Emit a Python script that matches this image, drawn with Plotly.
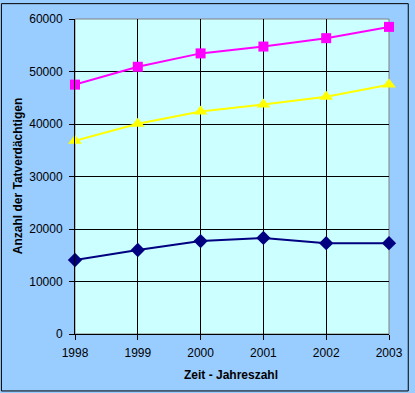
import plotly.graph_objects as go

years = [1998, 1999, 2000, 2001, 2002, 2003]
series_magenta = [47500, 50900, 53450, 54750, 56350, 58500]
series_yellow = [36800, 40050, 42400, 43700, 45200, 47500]
series_navy = [14100, 16000, 17700, 18300, 17300, 17300]
y_ticks = [0, 10000, 20000, 30000, 40000, 50000, 60000]

W, H = 415, 393
L, R, T, B = 75, 22, 16, 59
pw, ph = W - L - R, H - T - B

def px(x):
    return (x - L) / pw

def py(y):
    return (H - B - y) / ph

fig = go.Figure()
fig.add_trace(go.Scatter(x=years, y=series_magenta, mode="lines+markers",
                         line=dict(color="#FF00FF", width=2),
                         marker=dict(symbol="square", size=10, color="#FF00FF"),
                         cliponaxis=False, showlegend=False))
fig.add_trace(go.Scatter(x=years, y=series_yellow, mode="lines+markers",
                         line=dict(color="#FFFF00", width=2),
                         marker=dict(symbol="triangle-up", size=12, color="#FFFF00"),
                         cliponaxis=False, showlegend=False))
fig.add_trace(go.Scatter(x=years, y=series_navy, mode="lines+markers",
                         line=dict(color="#000080", width=2),
                         marker=dict(symbol="diamond", size=11, color="#000080"),
                         cliponaxis=False, showlegend=False))

FF = "Liberation Sans, Arial, sans-serif"
font = dict(family=FF, size=12, color="black")

fig.update_layout(
    width=W, height=H,
    margin=dict(l=L, r=R, t=T, b=B),
    paper_bgcolor="#99CCFF",
    plot_bgcolor="#CCFFFF",
    font=font,
    xaxis=dict(range=[1998, 2003], tickvals=years, ticktext=[str(y) for y in years],
               showgrid=True, gridcolor="black", gridwidth=1,
               ticks="outside", ticklen=5, tickcolor="black",
               ticklabelstandoff=3,
               showline=True, linecolor="black", linewidth=1,
               zeroline=False, fixedrange=True),
    yaxis=dict(range=[0, 60000], tickvals=y_ticks, ticktext=[str(v) for v in y_ticks],
               showgrid=True, gridcolor="black", gridwidth=1,
               ticks="outside", ticklen=5, tickcolor="black",
               ticklabelstandoff=4,
               showline=True, linecolor="black", linewidth=1,
               zeroline=False, fixedrange=True),
    shapes=[
        dict(type="rect", xref="paper", yref="paper", x0=0, x1=1, y0=0, y1=1,
             line=dict(color="#808080", width=1), layer="below"),
        dict(type="rect", xref="paper", yref="paper",
             x0=px(0.5), x1=px(412.5), y0=py(391.5), y1=py(0.5),
             line=dict(color="black", width=1)),
    ],
    annotations=[
        dict(text="<b>Anzahl der Tatverdächtigen</b>", xref="paper", yref="paper",
             x=px(17), y=py(175), xanchor="center", yanchor="middle",
             textangle=-90, showarrow=False,
             font=dict(family=FF, size=12, color="black")),
        dict(text="<b>Zeit - Jahreszahl</b>", xref="paper", yref="paper",
             x=px(233), y=py(375), xanchor="center", yanchor="middle", showarrow=False,
             font=dict(family=FF, size=12, color="black")),
    ],
)

fig.write_html("out.html", config={"displayModeBar": False},
               post_script="document.body.style.margin='0';document.body.style.overflow='hidden';")
